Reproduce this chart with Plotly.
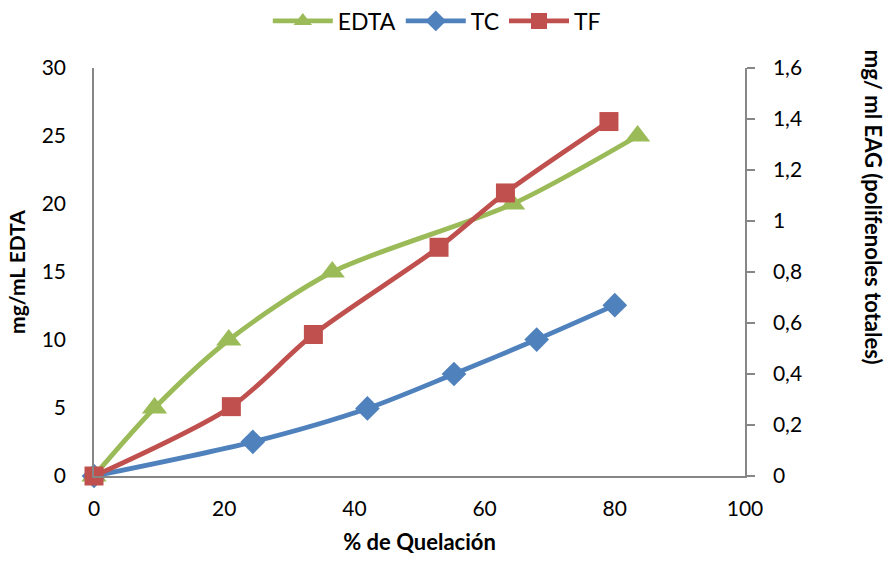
import plotly.graph_objects as go

# Data
edta_x = [0, 9.3, 20.7, 36.6, 64.3, 83.5]
edta_y = [0, 5, 10, 15, 20, 25]

tc_x = [0, 24.4, 42.0, 55.3, 68.0, 80.0]
tc_y = [0, 0.134, 0.265, 0.40, 0.535, 0.67]

tf_x = [0, 21.1, 33.7, 53.0, 63.2, 79.1]
tf_y = [0, 0.272, 0.555, 0.897, 1.11, 1.39]

x_ticks = [0, 20, 40, 60, 80, 100]
y_ticks = [0, 5, 10, 15, 20, 25, 30]
y2_ticks = [0, 0.2, 0.4, 0.6, 0.8, 1.0, 1.2, 1.4, 1.6]

GREEN = "#9BBB59"
BLUE = "#4F81BD"
RED = "#C0504D"
AXIS = "#868686"
FONT = "Lato"

fig = go.Figure()
fig.add_trace(go.Scatter(
    x=edta_x, y=edta_y, name="EDTA", mode="lines+markers",
    line=dict(color=GREEN, width=4.8, shape="spline", smoothing=0.8),
    marker=dict(symbol="triangle-up", size=22, color=GREEN),
    cliponaxis=False, yaxis="y"))
fig.add_trace(go.Scatter(
    x=tc_x, y=tc_y, name="TC", mode="lines+markers",
    line=dict(color=BLUE, width=4.8, shape="spline", smoothing=0.8),
    marker=dict(symbol="diamond", size=19, color=BLUE),
    cliponaxis=False, yaxis="y2"))
fig.add_trace(go.Scatter(
    x=tf_x, y=tf_y, name="TF", mode="lines+markers",
    line=dict(color=RED, width=4.8, shape="spline", smoothing=0.8),
    marker=dict(symbol="square", size=19, color=RED),
    cliponaxis=False, yaxis="y2"))

fig.update_layout(
    width=886, height=567,
    margin=dict(l=94, r=141, t=68, b=91, autoexpand=False),
    paper_bgcolor="white", plot_bgcolor="white",
    separators=",.",
    font=dict(family=FONT, size=21, color="black"),
    showlegend=True,
    legend=dict(orientation="h", xref="container", x=0.493, xanchor="center",
                yref="container", y=0.963, yanchor="middle",
                font=dict(family=FONT, size=23), itemwidth=60, tracegroupgap=0,
                bgcolor="rgba(0,0,0,0)"),
    xaxis=dict(range=[0, 100], tickvals=x_ticks, showgrid=False, zeroline=False,
               showline=True, linecolor=AXIS, linewidth=1.5, ticks="",
               ticklabelstandoff=13,
               title=dict(text="<b>% de Quelación</b>", font=dict(size=22), standoff=16)),
    yaxis=dict(range=[0, 30], tickvals=y_ticks, showgrid=False, zeroline=False,
               showline=True, linecolor=AXIS, linewidth=1.5, ticks="",
               ticklabelstandoff=22,
               title=dict(text="<b>mg/mL EDTA</b>", font=dict(size=21), standoff=10)),
    yaxis2=dict(range=[0, 1.6], tickvals=y2_ticks, overlaying="y", side="right",
                showgrid=False, zeroline=False, showline=True, linecolor=AXIS,
                linewidth=1.5, ticks="outside", ticklen=8, tickcolor=AXIS, tickwidth=1.5,
                ticklabelstandoff=14),
    annotations=[dict(text="<b>mg/ ml EAG (polifenoles totales)</b>", textangle=90,
                      xref="paper", yref="paper", x=1.0, xshift=128, y=0.66,
                      showarrow=False, font=dict(family=FONT, size=22),
                      xanchor="center", yanchor="middle")],
)

fig.write_html("out.html")
